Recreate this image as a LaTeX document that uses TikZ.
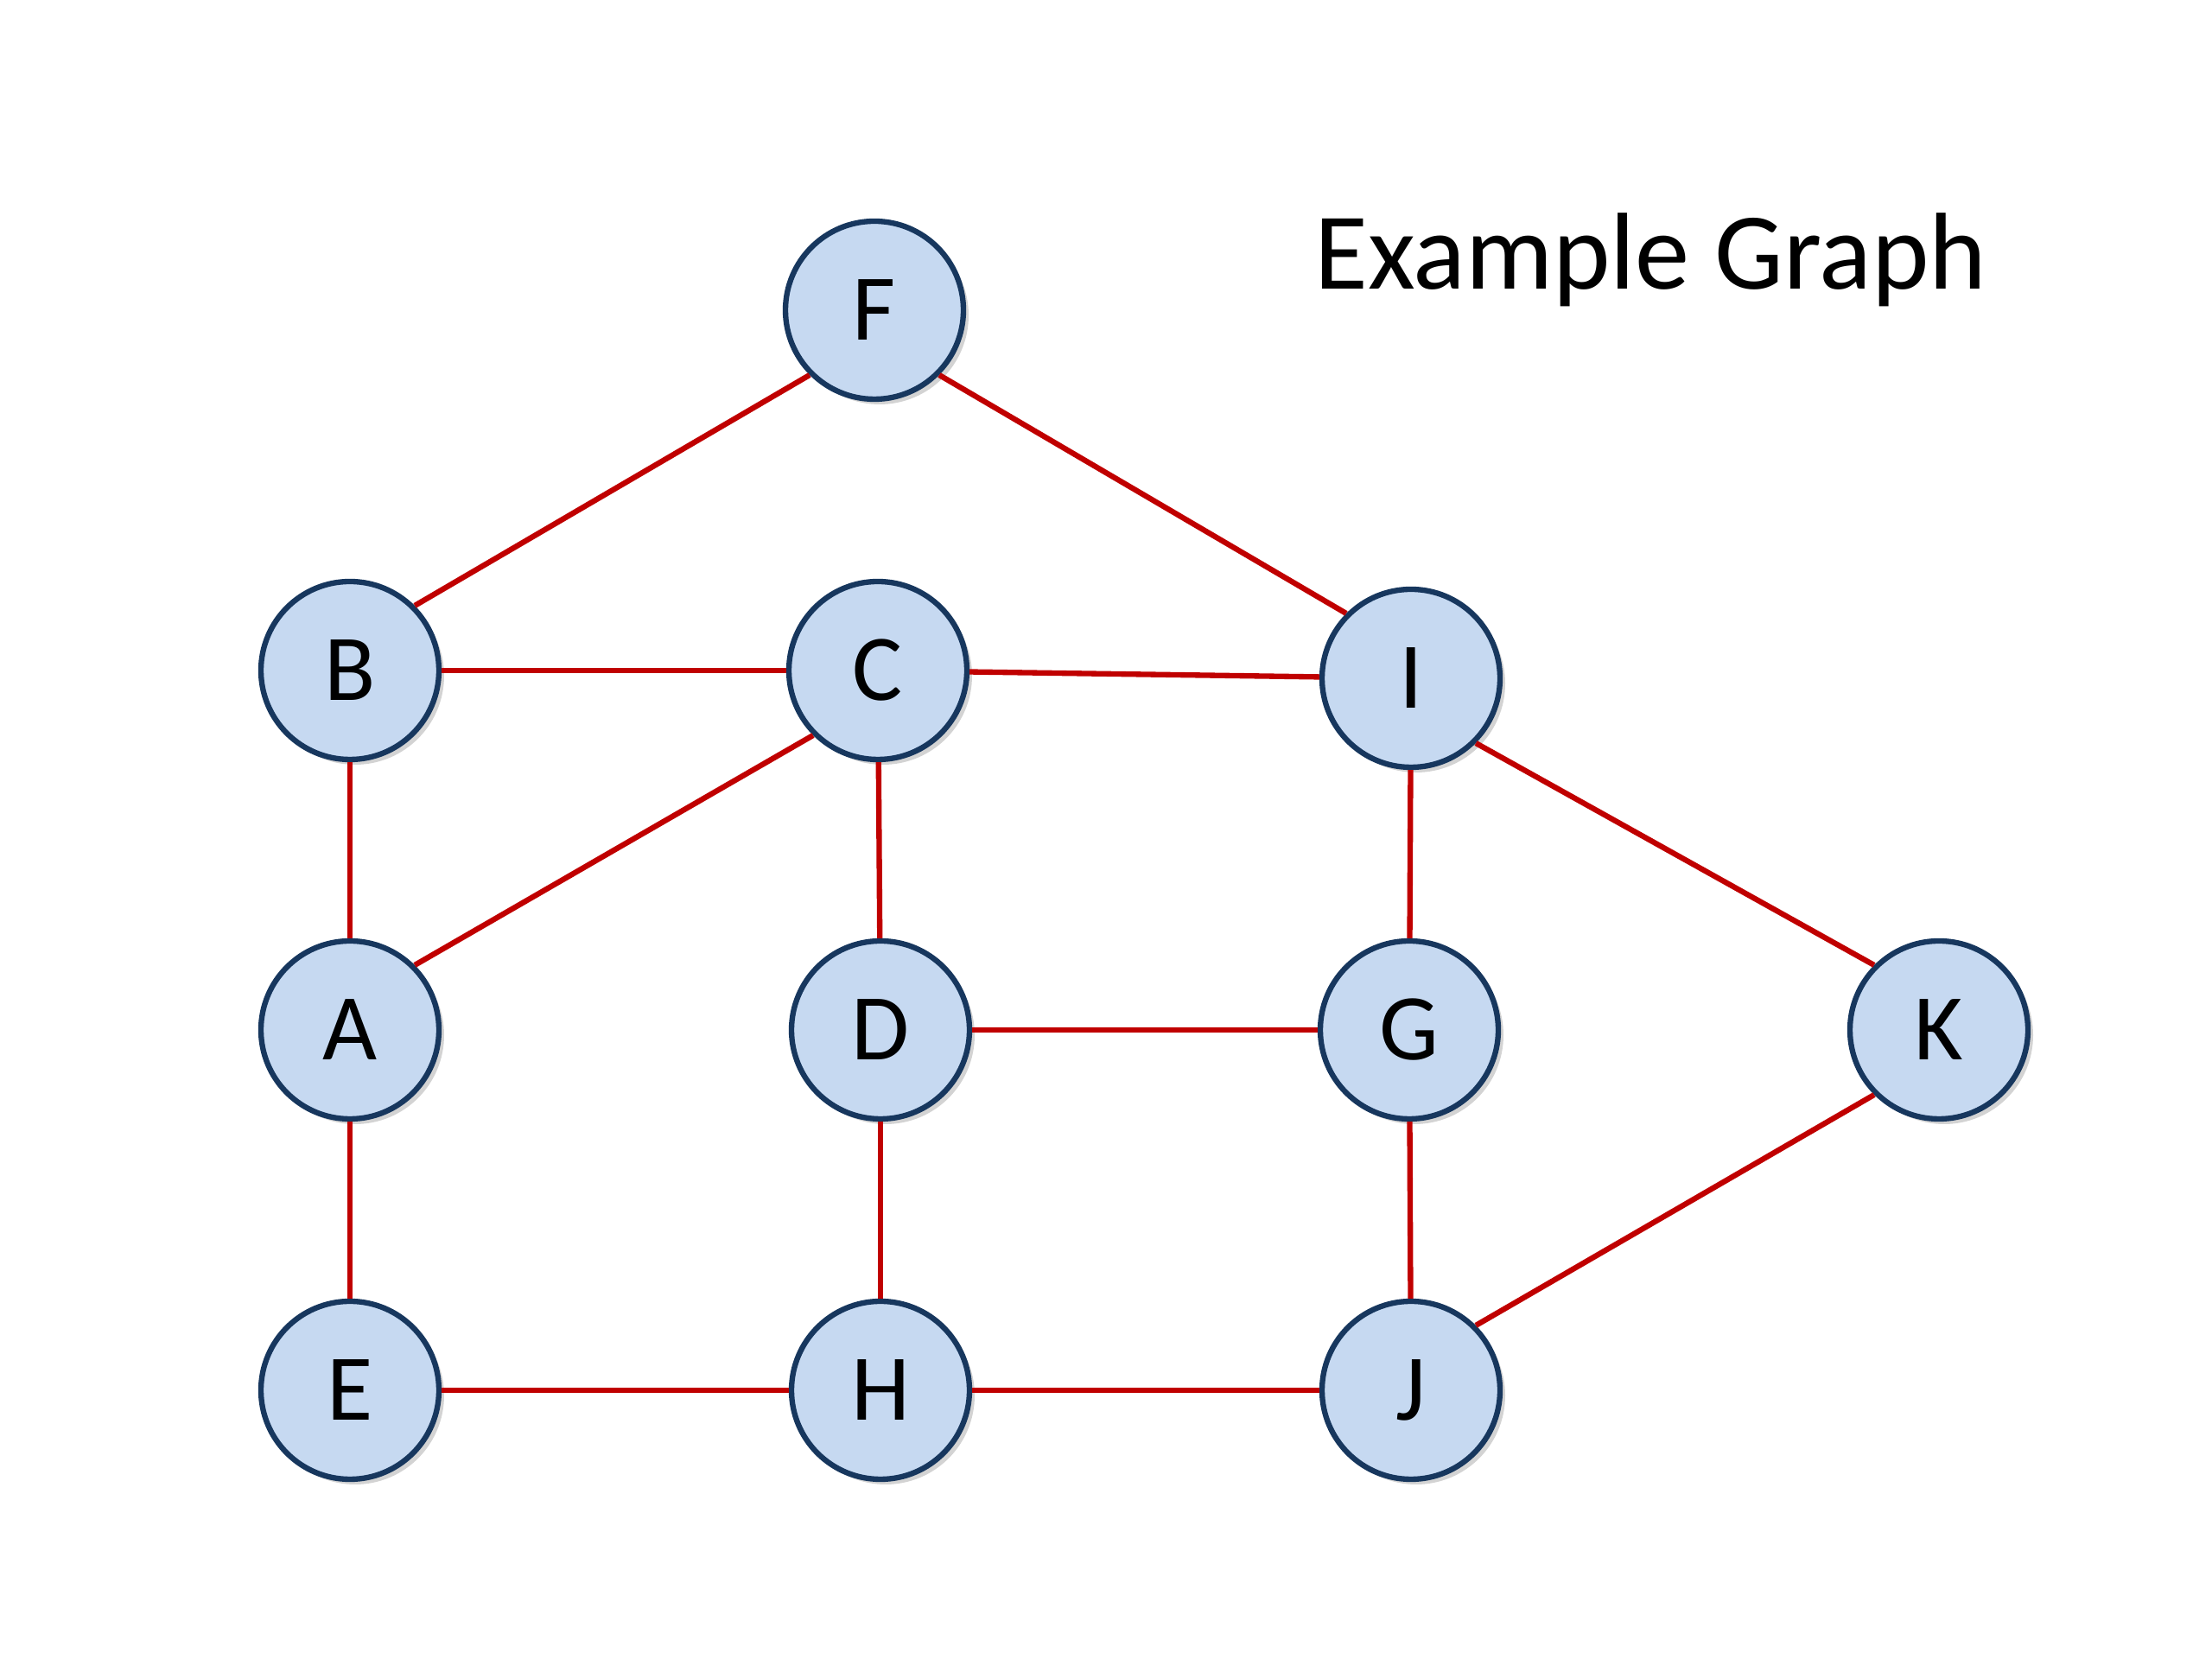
\documentclass[tikz,border=0pt]{standalone}
\usepackage{fontspec}
\setmainfont{Carlito}
\usepackage{tikz}
\usetikzlibrary{shadows}

\definecolor{nodefill}{HTML}{C6D9F1}
\definecolor{nodeline}{HTML}{17375E}
\definecolor{edgered}{HTML}{C00000}

\begin{document}
\begin{tikzpicture}
		\tikzstyle{vertex}=[draw=nodeline,line width=1.8pt,fill=nodefill,shape=circle,minimum size=2.06cm,inner sep=0pt,font=\fontsize{31}{31}\selectfont,drop shadow={shadow xshift=0.06cm,shadow yshift=-0.06cm,opacity=0.35}]
		\tikzstyle{edge}=[draw=edgered,line width=1.8pt]

		\useasboundingbox (0,0) rectangle (25.6,19.2);

		\node[vertex](F) at (10.12,15.61){F};
		\node[vertex](B) at (4.05,11.44){B};
		\node[vertex](C) at (10.16,11.44){C};
		\node[vertex](I) at (16.33,11.35){I};
		\node[vertex](A) at (4.05,7.28){A};
		\node[vertex](D) at (10.19,7.28){D};
		\node[vertex](G) at (16.31,7.28){G};
		\node[vertex](K) at (22.44,7.28){K};
		\node[vertex](E) at (4.05,3.11){E};
		\node[vertex](H) at (10.19,3.11){H};
		\node[vertex](J) at (16.33,3.11){J};

		\node[anchor=base west,font=\fontsize{36}{36}\selectfont](title) at (15.09,15.85){Example Graph};

		\draw[edge] (F.south west) -- (B.north east);
		\draw[edge] (F.south east) -- (I.north west);
		\draw[edge] (B) -- (C);
		\draw[edge] (C) -- (I);
		\draw[edge] (B) -- (A);
		\draw[edge] (C.south west) -- (A.north east);
		\draw[edge] (C) -- (D);
		\draw[edge] (I) -- (G);
		\draw[edge] (I.south east) -- (K.north west);
		\draw[edge] (D) -- (G);
		\draw[edge] (A) -- (E);
		\draw[edge] (D) -- (H);
		\draw[edge] (G) -- (J);
		\draw[edge] (K.south west) -- (J.north east);
		\draw[edge] (E) -- (H);
		\draw[edge] (H) -- (J);
	\end{tikzpicture}
\end{document}
